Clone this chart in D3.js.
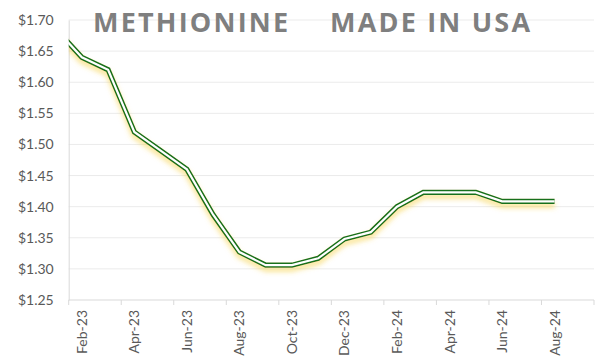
<!DOCTYPE html>
<html>
<head>
<meta charset="utf-8">
<script src="https://cdn.jsdelivr.net/npm/d3@7"></script>
<style>
  html, body { margin: 0; padding: 0; background: #fff; }
  svg { display: block; }
</style>
</head>
<body>
<div id="chart"></div>
<script>
// ---- Data ----
const axisMonths = ["Feb-23","Mar-23","Apr-23","May-23","Jun-23","Jul-23","Aug-23","Sep-23","Oct-23","Nov-23","Dec-23",
  "Jan-24","Feb-24","Mar-24","Apr-24","May-24","Jun-24","Jul-24","Aug-24","Sep-24"];
const dataMonths = ["Jan-23","Feb-23","Mar-23","Apr-23","May-23","Jun-23","Jul-23","Aug-23","Sep-23","Oct-23","Nov-23","Dec-23",
  "Jan-24","Feb-24","Mar-24","Apr-24","May-24","Jun-24","Jul-24","Aug-24"];
const prices = [1.686,1.640,1.620,1.520,1.490,1.460,1.387,1.327,1.306,1.306,1.317,1.348,
  1.359,1.400,1.423,1.423,1.423,1.4085,1.4085,1.4085];
const yTicks = [1.25,1.30,1.35,1.40,1.45,1.50,1.55,1.60,1.65,1.70];
const titleLeft = "METHIONINE";
const titleRight = "MADE IN USA";

// ---- Layout ----
const W = 606, H = 363;
const plot = { left: 68.7, right: 594, top: 20, bottom: 300 };

const svg = d3.select("#chart").append("svg").attr("width", W).attr("height", H);

const x = d3.scaleLinear().domain([0, axisMonths.length]).range([plot.left, plot.right]);
const y = d3.scaleLinear().domain([1.25, 1.70]).range([plot.bottom, plot.top]);
const monthIndex = m => { const i = axisMonths.indexOf(m); return i >= 0 ? i : -1; };

const defs = svg.append("defs");
defs.append("clipPath").attr("id", "plotClip").append("rect")
  .attr("x", plot.left).attr("y", plot.top - 10)
  .attr("width", plot.right - plot.left).attr("height", plot.bottom - plot.top + 20);
const f = defs.append("filter").attr("id", "glow").attr("x", "-10%").attr("y", "-20%").attr("width", "120%").attr("height", "150%");
f.append("feGaussianBlur").attr("in", "SourceAlpha").attr("stdDeviation", 2.6).attr("result", "b");
f.append("feOffset").attr("in", "b").attr("dy", 4).attr("result", "o");
f.append("feFlood").attr("flood-color", "#f6cf3c").attr("flood-opacity", 0.55).attr("result", "c");
f.append("feComposite").attr("in", "c").attr("in2", "o").attr("operator", "in").attr("result", "s");
const fm = f.append("feMerge");
fm.append("feMergeNode").attr("in", "s");
fm.append("feMergeNode").attr("in", "SourceGraphic");

// gridlines
svg.append("g").selectAll("line").data(yTicks.filter(d => d > 1.25)).join("line")
  .attr("x1", plot.left).attr("x2", plot.right)
  .attr("y1", d => y(d)).attr("y2", d => y(d))
  .attr("stroke", "#ebebeb").attr("stroke-width", 1);

// y axis
const yAxis = d3.axisLeft(y).tickValues(yTicks).tickFormat(d => "$" + d.toFixed(2)).tickSize(0).tickPadding(15);
const gy = svg.append("g").attr("transform", `translate(${plot.left},0)`).call(yAxis);
gy.select(".domain").attr("stroke", "#d9d9d9");
gy.selectAll("text").attr("font-family", "Lato, 'Open Sans', sans-serif").attr("font-size", 14).attr("fill", "#595959");

// x axis: ticks at boundaries every 2 months, labels at centers
const tickIdx = d3.range(0, axisMonths.length + 1, 2);
const gx = svg.append("g").attr("transform", `translate(0,${plot.bottom})`);
gx.append("line").attr("x1", plot.left).attr("x2", plot.right).attr("stroke", "#d9d9d9");
gx.selectAll("line.tick").data(tickIdx).join("line").attr("class", "tick")
  .attr("x1", d => x(d)).attr("x2", d => x(d)).attr("y1", 0).attr("y2", 5)
  .attr("stroke", "#d9d9d9");
gx.selectAll("text").data(axisMonths.filter((m, i) => i % 2 === 0)).join("text")
  .attr("transform", d => `translate(${x(monthIndex(d) + 0.5) + 5},10) rotate(-90)`)
  .attr("text-anchor", "end")
  .attr("font-family", "Lato, 'Open Sans', sans-serif").attr("font-size", 14).attr("fill", "#595959")
  .text(d => d);

// line
const pts = dataMonths.map((m, i) => ({ m, v: prices[i] }));
const line = d3.line().x(d => x(monthIndex(d.m) + 0.5)).y(d => y(d.v));
const lg = svg.append("g").attr("clip-path", "url(#plotClip)").append("g").attr("filter", "url(#glow)");
lg.append("path").datum(pts).attr("d", line).attr("fill", "none")
  .attr("stroke", "#16701a").attr("stroke-width", 5.2).attr("stroke-linejoin", "miter");
lg.append("path").datum(pts).attr("d", line).attr("fill", "none")
  .attr("stroke", "#ffffff").attr("stroke-width", 2.2).attr("stroke-linejoin", "miter");

// title
const tStyle = sel => sel.attr("font-family", "'Open Sans', sans-serif").attr("font-weight", 700)
  .attr("font-size", 27).attr("fill", "#7f7f7f").attr("letter-spacing", 2.2);
svg.append("text").attr("x", 93).attr("y", 32).text(titleLeft).call(tStyle);
svg.append("text").attr("x", 330).attr("y", 32).text(titleRight).call(tStyle);
</script>
</body>
</html>
